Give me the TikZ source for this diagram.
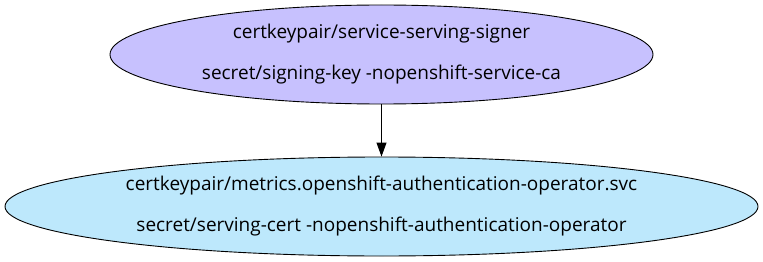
\documentclass[tikz,border=0pt]{standalone}
\usepackage{fontspec}
\setmainfont{Open Sans}
\usetikzlibrary{shapes.geometric,arrows.meta}
\definecolor{signerfill}{HTML}{C7C1FE}
\definecolor{certfill}{HTML}{BDE8FC}
\tikzset{
  certnode/.style={ellipse, draw=black, line width=0.9pt, inner sep=0pt,
    align=center, font=\fontsize{19}{41}\selectfont},
  link/.style={draw=black, line width=0.9pt, -{Triangle[length=14pt,width=10pt]}}
}
\begin{document}
\begin{tikzpicture}[x=1pt,y=-1pt]
  \useasboundingbox (0,0) rectangle (763,262);
  \node[certnode, fill=signerfill, minimum width=543pt, minimum height=99pt] (signer) at (381.5,54.5)
    {certkeypair/service-serving-signer\\secret/signing-key -nopenshift-service-ca};
  \node[certnode, fill=certfill, minimum width=753pt, minimum height=99pt] (metrics) at (381.5,206.5)
    {certkeypair/metrics.openshift-authentication-operator.svc\\secret/serving-cert -nopenshift-authentication-operator};
  \draw[link] (signer) -- (metrics);
\end{tikzpicture}
\end{document}
